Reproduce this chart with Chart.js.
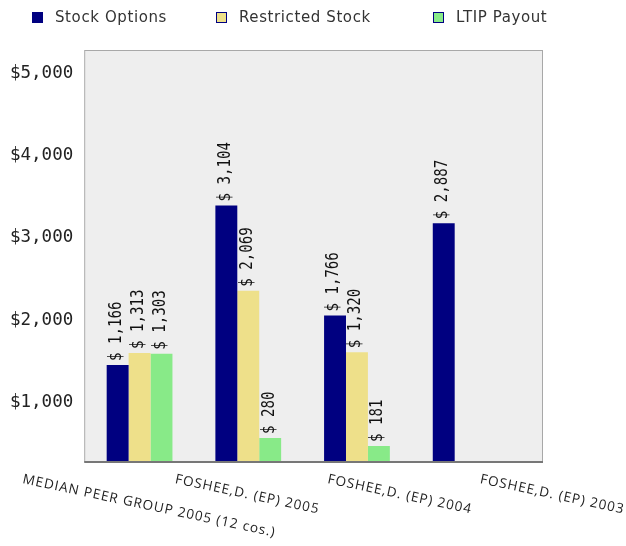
<!DOCTYPE html>
<html>
<head>
<meta charset="utf-8">
<script src="https://cdn.jsdelivr.net/npm/chart.js@4/dist/chart.umd.min.js"></script>
<style>
  body { margin: 0; background: #fff; }
</style>
</head>
<body>
<canvas id="myComp" width="626" height="546"></canvas>
<script>
const categories = ['MEDIAN PEER GROUP 2005 (12 cos.)', 'FOSHEE,D. (EP) 2005', 'FOSHEE,D. (EP) 2004', 'FOSHEE,D. (EP) 2003'];
const stockOptions = [1166, 3104, 1766, 2887];
const restrictedStock = [1313, 2069, 1320, null];
const ltipPayout = [1303, 280, 181, null];
const yTickLabels = [1000, 2000, 3000, 4000, 5000];

// in the original the axis labels sit ~300 higher than the bar values
const AXIS_SHIFT = 290;
const EXTRA_RIGHT = 22;
const LEGEND_X = [32, 216, 433];

const money = v => v.toLocaleString('en-US');

const plotBox = {
  id: 'plotBox',
  beforeDatasetsDraw(chart) {
    const { ctx, chartArea: a } = chart;
    const w = a.right + EXTRA_RIGHT - a.left;
    ctx.save();
    ctx.fillStyle = '#eeeeee';
    ctx.fillRect(a.left, a.top, w, a.bottom - a.top);
    ctx.strokeStyle = '#a8a8a8';
    ctx.lineWidth = 1;
    ctx.strokeRect(a.left - 0.5, a.top - 0.5, w + 1, a.bottom - a.top + 1);
    ctx.strokeStyle = '#777';
    ctx.lineWidth = 2;
    ctx.beginPath();
    ctx.moveTo(a.left - 1, a.bottom + 1);
    ctx.lineTo(a.right + EXTRA_RIGHT + 1, a.bottom + 1);
    ctx.stroke();
    ctx.restore();
  }
};

const barLabels = {
  id: 'barLabels',
  afterDatasetsDraw(chart) {
    const ctx = chart.ctx;
    ctx.save();
    ctx.font = '17px "DejaVu Sans Mono"';
    ctx.fillStyle = '#111';
    ctx.textAlign = 'left';
    ctx.textBaseline = 'middle';
    chart.data.datasets.forEach((ds, di) => {
      chart.getDatasetMeta(di).data.forEach((bar, i) => {
        if (ds.data[i] == null) return;
        ctx.save();
        ctx.translate(bar.x - 1, bar.y - 4);
        ctx.rotate(-Math.PI / 2);
        ctx.scale(0.83, 1);
        ctx.fillText('$ ' + money(ds.data[i]), 0, 0);
        ctx.restore();
      });
    });
    ctx.restore();
  }
};

const slantedLabels = {
  id: 'slantedLabels',
  afterDraw(chart) {
    const ctx = chart.ctx;
    const step = (chart.width - 16) / categories.length;
    ctx.save();
    ctx.font = '13.5px "Open Sans"';
    ctx.letterSpacing = '1px';
    ctx.fillStyle = '#222';
    ctx.textBaseline = 'alphabetic';
    categories.forEach((c, i) => {
      ctx.save();
      ctx.translate(22 + step * i, chart.chartArea.bottom + 22);
      ctx.rotate(12 * Math.PI / 180);
      ctx.fillText(c, 0, 0);
      ctx.restore();
    });
    ctx.restore();
  }
};

const boxLegend = {
  id: 'boxLegend',
  afterDraw(chart) {
    const ctx = chart.ctx;
    ctx.save();
    ctx.font = '15px "DejaVu Sans"';
    ctx.letterSpacing = '0.6px';
    ctx.textBaseline = 'middle';
    chart.data.datasets.forEach((ds, i) => {
      const x = LEGEND_X[i];
      ctx.fillStyle = ds.backgroundColor;
      ctx.fillRect(x, 12, 11, 11);
      ctx.strokeStyle = '#000080';
      ctx.lineWidth = 1;
      ctx.strokeRect(x + 0.5, 12.5, 10, 10);
      ctx.fillStyle = '#333';
      ctx.fillText(ds.label, x + 23, 18);
    });
    ctx.restore();
  }
};

new Chart(document.getElementById('myComp'), {
  type: 'bar',
  data: {
    labels: categories,
    datasets: [
      { label: 'Stock Options', data: stockOptions, backgroundColor: '#000080' },
      { label: 'Restricted Stock', data: restrictedStock, backgroundColor: '#eee08a' },
      { label: 'LTIP Payout', data: ltipPayout, backgroundColor: '#88ea88' }
    ]
  },
  options: {
    responsive: false,
    animation: false,
    barPercentage: 1,
    categoryPercentage: 0.605,
    layout: { padding: { left: 6, right: 106, top: 51, bottom: 77 } },
    plugins: {
      legend: { display: false },
      tooltip: { enabled: false }
    },
    scales: {
      x: {
        grid: { display: false },
        border: { display: false },
        ticks: { display: false }
      },
      y: {
        min: 0,
        max: 4980,
        grid: { display: false },
        border: { display: false },
        afterBuildTicks(scale) {
          scale.ticks = yTickLabels.map(v => ({ value: v - AXIS_SHIFT }));
        },
        ticks: {
          padding: 4,
          color: '#222',
          font: { family: 'DejaVu Sans Mono', size: 17.5 },
          callback: v => '$' + money(v + AXIS_SHIFT)
        }
      }
    }
  },
  plugins: [plotBox, barLabels, slantedLabels, boxLegend]
});
</script>
</body>
</html>
